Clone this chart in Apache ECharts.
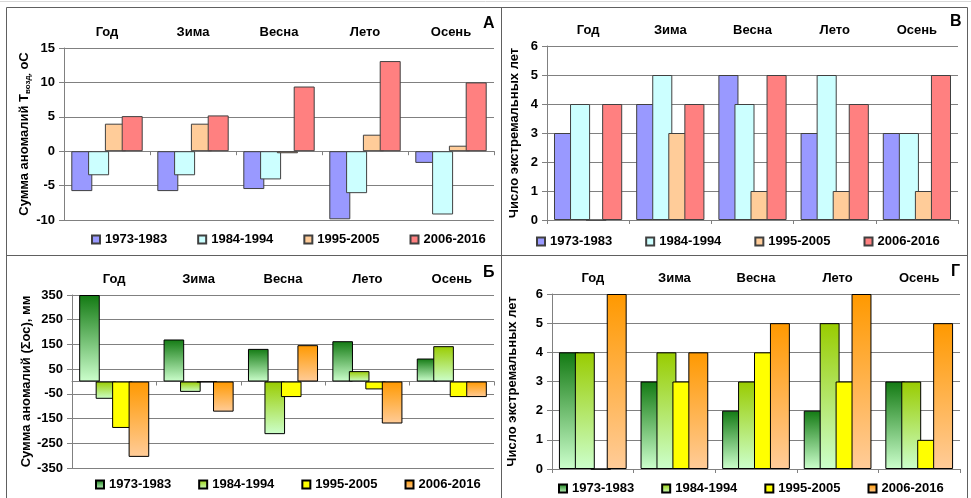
<!DOCTYPE html>
<html>
<head>
<meta charset="utf-8">
<script src="https://cdn.jsdelivr.net/npm/echarts@6/dist/echarts.min.js"></script>
<style>
  html, body { margin: 0; padding: 0; background: #fff; }
  #main { width: 971px; height: 498px; }
</style>
</head>
<body>
<div id="main"></div>
<script>
  // категории и периоды
  const seasons = ['Год', 'Зима', 'Весна', 'Лето', 'Осень'];
  const periods = ['1973-1983', '1984-1994', '1995-2005', '2006-2016'];

  // А: сумма аномалий температуры воздуха, oC
  const tempSum1973 = [-5.8, -5.8, -5.5, -9.9, -1.7];
  const tempSum1984 = [-3.5, -3.5, -4.1, -6.1, -9.2];
  const tempSum1995 = [4.0, 4.0, -0.3, 2.4, 0.8];
  const tempSum2006 = [5.1, 5.2, 9.4, 13.1, 10.0];

  // В: число экстремальных лет (температура)
  const tempExt1973 = [3, 4, 5, 3, 3];
  const tempExt1984 = [4, 5, 4, 5, 3];
  const tempExt1995 = [0, 3, 1, 1, 1];
  const tempExt2006 = [4, 4, 5, 4, 5];

  // Б: сумма аномалий осадков, мм
  const precSum1973 = [350, 170, 132, 163, 93];
  const precSum1984 = [-70, -42, -213, 42, 143];
  const precSum1995 = [-188, -3, -63, -32, -63];
  const precSum2006 = [-305, -122, 147, -170, -63];
  const precTicks = ['-350', '-250', '-150', '-50', '50', '150', '250', '350'];

  // Г: число экстремальных лет (осадки)
  const precExt1973 = [4, 3, 2, 2, 3];
  const precExt1984 = [4, 4, 3, 5, 3];
  const precExt1995 = [0, 3, 4, 3, 1];
  const precExt2006 = [6, 4, 5, 6, 5];

  const font = '"Liberation Sans", Arial, sans-serif';
  const tempColors = ['#9999FF', '#CCFFFF', '#FFCC99', '#FF8080'];
  const grad = (a, b) => new echarts.graphic.LinearGradient(0, 0, 0, 1, [
    { offset: 0, color: a }, { offset: 1, color: b }
  ]);
  const precColors = [
    grad('#137a13', '#ccffcc'),
    grad('#99cc00', '#ccffcc'),
    '#FFFF00',
    grad('#ff9900', '#ffcc99')
  ];

  let myChart = echarts.init(document.getElementById('main'));

  const grids = [
    { left: 64, top: 48, width: 430, height: 172 },   // А
    { left: 547, top: 46, width: 411, height: 174 },  // В
    { left: 72, top: 295, width: 422, height: 173 },  // Б
    { left: 552, top: 294, width: 408, height: 175 }  // Г
  ];

  const lineGray = '#808080';
  const labelStyle = { color: '#000', fontFamily: font, fontWeight: 'bold', fontSize: 13 };

  // нижние оси (на нуле) и верхние с подписями сезонов
  let xAxes = [];
  for (let i = 0; i < 4; i++) {
    xAxes.push({
      type: 'category', gridIndex: i, data: seasons, position: 'bottom',
      axisLine: { onZero: true, onZeroAxisIndex: i, lineStyle: { color: lineGray } },
      axisTick: { show: true, length: 4, lineStyle: { color: lineGray } },
      axisLabel: { show: false }
    });
  }
  for (let i = 0; i < 4; i++) {
    xAxes.push({
      type: 'category', gridIndex: i, data: seasons, position: 'top',
      axisLine: { show: false, onZero: false },
      axisTick: { show: false },
      axisLabel: Object.assign({ margin: 9 }, labelStyle)
    });
  }

  const nameStyle = { color: '#000', fontFamily: font, fontWeight: 'bold', fontSize: 13 };
  const yBase = (extra) => Object.assign({
    type: 'value', position: 'left',
    axisLine: { show: true, lineStyle: { color: lineGray } },
    axisTick: { show: true, length: 5, inside: false, lineStyle: { color: lineGray } },
    splitLine: { lineStyle: { color: lineGray, width: 1 } },
    axisLabel: Object.assign({ margin: 9 }, labelStyle),
    nameLocation: 'middle', nameRotate: 90
  }, extra);

  let yAxes = [
    yBase({
      gridIndex: 0, min: -10, max: 15, interval: 5, nameGap: 32,
      name: '{a|Сумма аномалий T}{s|возд,}{a| оС}',
      nameTextStyle: {
        rich: {
          a: Object.assign({ verticalAlign: 'middle', lineHeight: 16 }, nameStyle),
          s: { color: '#000', fontFamily: font, fontWeight: 'bold', fontSize: 8, verticalAlign: 'bottom', lineHeight: 16, padding: [6, 0, 0, 0] }
        }
      }
    }),
    yBase({
      gridIndex: 1, min: 0, max: 6, interval: 1, nameGap: 26,
      name: 'Число экстремальных лет', nameTextStyle: nameStyle
    }),
    // скрытая ось данных для Б
    { type: 'value', gridIndex: 2, position: 'left', min: -350, max: 350, show: false, splitLine: { show: false } },
    yBase({
      gridIndex: 3, min: 0, max: 6, interval: 1, nameGap: 33,
      name: 'Число экстремальных лет', nameTextStyle: nameStyle
    }),
    // ось подписей для Б
    yBase({
      gridIndex: 2, min: 0, max: 700, interval: 100, nameGap: 37,
      name: 'Сумма аномалий (Σос), мм', nameTextStyle: nameStyle,
      axisLabel: Object.assign({ margin: 9, formatter: v => precTicks[v / 100] }, labelStyle)
    })
  ];

  const panels = [
    { key: 'A', grid: 0, data: [tempSum1973, tempSum1984, tempSum1995, tempSum2006], colors: tempColors, border: '#404040' },
    { key: 'V', grid: 1, data: [tempExt1973, tempExt1984, tempExt1995, tempExt2006], colors: tempColors, border: '#404040' },
    { key: 'B', grid: 2, data: [precSum1973, precSum1984, precSum1995, precSum2006], colors: precColors, border: '#000' },
    { key: 'G', grid: 3, data: [precExt1973, precExt1984, precExt1995, precExt2006], colors: precColors, border: '#000' }
  ];

  let series = [];
  panels.forEach(p => {
    p.data.forEach((vals, k) => {
      series.push({
        name: p.key + ':' + periods[k],
        type: 'bar',
        xAxisIndex: p.grid,
        yAxisIndex: p.grid,
        data: vals,
        barGap: '-20%',
        barCategoryGap: '17%',
        itemStyle: { color: p.colors[k], borderColor: p.border, borderWidth: 1 }
      });
    });
  });

  const legendPos = [
    { left: 86, top: 228, itemGap: 30 },
    { left: 531, top: 230, itemGap: 33 },
    { left: 90, top: 473, itemGap: 27 },
    { left: 553, top: 477, itemGap: 27 }
  ];
  const legends = panels.map((p, i) => Object.assign({
    data: periods.map(n => p.key + ':' + n),
    orient: 'horizontal',
    icon: 'rect', itemWidth: 8, itemHeight: 8,
    formatter: name => name.split(':')[1],
    textStyle: { color: '#000', fontFamily: font, fontWeight: 'bold', fontSize: 13 },
    selectedMode: false
  }, legendPos[i]));

  const letterStyle = { color: '#000', fontFamily: font, fontWeight: 'bold', fontSize: 16 };
  const titles = [
    { text: 'А', left: 478, top: 11, textStyle: letterStyle },
    { text: 'В', left: 945, top: 9, textStyle: letterStyle },
    { text: 'Б', left: 478, top: 260, textStyle: letterStyle },
    { text: 'Г', left: 946, top: 259, textStyle: letterStyle }
  ];

  let option = {
    animation: false,
    title: titles,
    legend: legends,
    grid: grids,
    xAxis: xAxes,
    yAxis: yAxes,
    series: series,
    graphic: [
      { type: 'line', shape: { x1: 0, y1: 1.5, x2: 971, y2: 1.5 }, style: { stroke: '#d8d8d8', lineWidth: 1 } },
      { type: 'rect', shape: { x: 6.5, y: 7.5, width: 961, height: 500 }, style: { fill: 'none', stroke: '#606060', lineWidth: 1 } },
      { type: 'line', shape: { x1: 501.5, y1: 7.5, x2: 501.5, y2: 498 }, style: { stroke: '#606060', lineWidth: 1 } },
      { type: 'line', shape: { x1: 6.5, y1: 255.5, x2: 967.5, y2: 255.5 }, style: { stroke: '#606060', lineWidth: 1 } }
    ]
  };
  myChart.setOption(option);
</script>
</body>
</html>
